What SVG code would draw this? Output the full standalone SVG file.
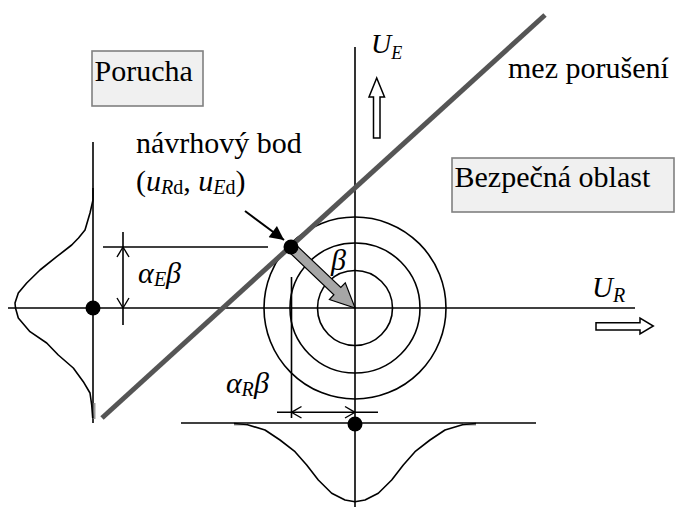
<svg xmlns="http://www.w3.org/2000/svg" width="677" height="507" viewBox="0 0 677 507">
<style>
.ln{stroke:#000;stroke-width:1.6;fill:none}
.crv{stroke:#000;stroke-width:1.6;fill:none;stroke-linejoin:round}
.tail{stroke:#999;stroke-width:2;fill:none}
.ring{stroke:#000;stroke-width:1.6;fill:none}
.dot{fill:#000}
.box{fill:#f0f0f0;stroke:#808080;stroke-width:1.6}
.hollow{fill:#fff;stroke:#000;stroke-width:1.5}
.vee{stroke:#000;stroke-width:1.4;fill:none}
</style>
<defs>
<marker id="blk" viewBox="0 0 10 10" refX="10" refY="5" markerWidth="16" markerHeight="14" markerUnits="userSpaceOnUse" orient="auto">
<path d="M0,0 L10,5 L0,10 Z" fill="#000"/>
</marker>
</defs>

<g id="axes">
<line class="ln" x1="8" y1="308" x2="635" y2="308"/>
<line class="ln" x1="355" y1="47" x2="355" y2="507"/>
</g>

<g id="circles">
<circle class="ring" cx="355" cy="308" r="37.5"/>
<circle class="ring" cx="355" cy="308" r="65"/>
<circle class="ring" cx="355" cy="308" r="91"/>
</g>

<g id="limit-line">
<line x1="102" y1="418" x2="545" y2="15" stroke="#555" stroke-width="5"/>
</g>

<g id="left-distribution">
<line class="ln" x1="93" y1="142" x2="93" y2="423"/>
<line class="tail" x1="94.5" y1="403" x2="94.5" y2="419"/>
<polyline class="crv" points="93,188 93,200 90,213 85,230 78.5,238 71.7,245 56.7,256.7 40,270 26.7,283 18.3,293 15,303 15.5,308 18.3,318 30,331.7 46.7,343 58.3,355 73.3,368 83.3,381.7 90,393 91.7,405 92.7,418"/>
<circle class="dot" cx="93" cy="308" r="7.5"/>
</g>

<g id="bottom-distribution">
<line class="ln" x1="181" y1="423" x2="536" y2="423"/>
<line class="tail" x1="234" y1="424.5" x2="247" y2="424.5"/>
<line class="tail" x1="463" y1="424.5" x2="476" y2="424.5"/>
<polyline class="crv" points="234,423.5 246.7,424.5 265,430 280,440 295,451.7 306.7,465 318.3,480 331.7,493.3 345,500 355,501.7 365,500 378.3,493.3 391.7,480 403.3,465 415,451.7 430,440 445,430 463.3,424.5 476,423.5"/>
<circle class="dot" cx="355" cy="424" r="7.5"/>
</g>

<g id="connectors">
<line class="ln" x1="103" y1="247" x2="268" y2="247"/>
<line class="ln" x1="291.5" y1="277" x2="291.5" y2="418"/>
<line class="ln" x1="123" y1="232" x2="123" y2="325"/>
<polyline class="vee" points="117,257 123,247 129,257"/>
<polyline class="vee" points="117,298 123,308 129,298"/>
<line class="ln" x1="277" y1="412.3" x2="378" y2="412.3"/>
<polyline class="vee" points="301.5,406.5 291.5,412.3 301.5,418"/>
<polyline class="vee" points="345,406.5 355,412.3 345,418"/>
<line x1="245" y1="211" x2="284" y2="240" stroke="#000" stroke-width="2" marker-end="url(#blk)"/>
<polygon transform="translate(291,247) rotate(43.6)" points="0,-5 64,-5 64,-11.5 88.5,0 64,11.5 64,5 0,5" fill="#a6a6a6" stroke="#000" stroke-width="1.2"/>
</g>

<g id="design-point">
<circle class="dot" cx="291" cy="247" r="7.5"/>
</g>

<g id="axis-arrows">
<polygon class="hollow" points="373.5,138 373.5,97 369,97 376.7,78 384.5,97 380,97 380,138"/>
<polygon class="hollow" points="596,322.7 640,322.7 640,318 653.3,326 640,334 640,330 596,330"/>
</g>

<g font-family="'Liberation Serif', 'DejaVu Serif', 'Times New Roman', serif" font-size="30" fill="#000">
<g id="porucha">
<rect class="box" x="92" y="51" width="111" height="55"/>
<text x="94.5" y="81">Porucha</text>
</g>

<g id="bezpecna">
<rect class="box" x="452" y="158" width="222" height="54"/>
<text x="454.5" y="187">Bezpečná oblast</text>
</g>

<g id="labels">
<text x="508" y="78">mez porušení</text>
<text x="136" y="153">návrhový bod</text>
<text x="136" y="191">(<tspan font-style="italic">u</tspan><tspan font-size="20" font-style="italic" dy="3">R</tspan><tspan font-size="20">d</tspan><tspan dy="-3">, </tspan><tspan font-style="italic">u</tspan><tspan font-size="20" font-style="italic" dy="3">E</tspan><tspan font-size="20">d</tspan><tspan dy="-3">)</tspan></text>
<text x="371" y="53" font-size="28" font-style="italic">U<tspan font-size="18" dy="6">E</tspan></text>
<text x="592" y="297" font-size="29" font-style="italic">U<tspan font-size="20" dy="5">R</tspan></text>
<text x="138" y="283" font-style="italic">α<tspan font-size="20" x="154" dy="3">E</tspan><tspan x="166" dy="-3">β</tspan></text>
<text x="226" y="393" font-style="italic">α<tspan font-size="20" x="241.5" dy="3">R</tspan><tspan x="254" dy="-3">β</tspan></text>
<text x="331" y="270" font-style="italic">β</text>
</g>
</g>
</svg>
